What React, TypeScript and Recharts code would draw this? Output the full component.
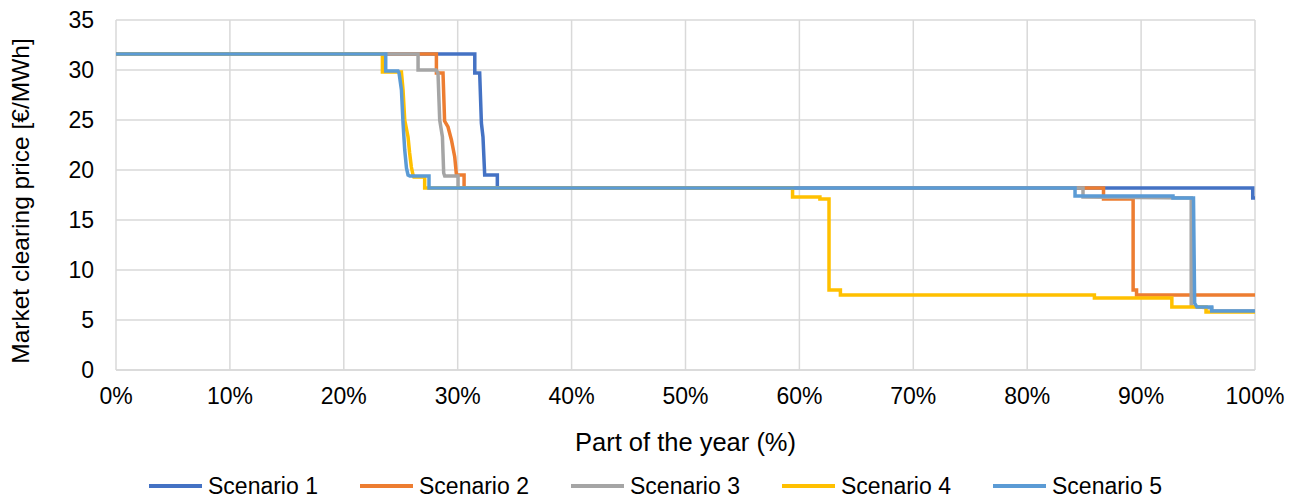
import { LineChart, Line, XAxis, YAxis, CartesianGrid, Legend } from "recharts";

// [part of year %, price €/MWh]
const scenario1 = [
  [0, 31.6], [31.5, 31.6], [31.5, 29.7], [31.93, 29.7], [32.08, 24.7], [32.22, 23.3],
  [32.37, 19.5], [33.48, 19.5], [33.48, 18.2], [99.8, 18.2], [99.8, 17.2], [100, 17.2],
];
const scenario2 = [
  [0, 31.6], [28.13, 31.6], [28.13, 29.7], [28.71, 29.7], [28.85, 24.9], [29.15, 24.3],
  [29.45, 23.0], [29.74, 21.3], [29.89, 19.5], [30.56, 19.5], [30.56, 18.2], [86.7, 18.2],
  [86.7, 17.1], [89.3, 17.1], [89.3, 8.0], [89.6, 8.0], [89.6, 7.5], [100, 7.5],
];
const scenario3 = [
  [0, 31.6], [26.52, 31.6], [26.52, 30.0], [28.1, 30.0], [28.27, 29.7], [28.42, 25.0],
  [28.66, 23.3], [28.77, 19.7], [28.86, 19.4], [30.03, 19.4], [30.03, 18.2], [84.9, 18.2],
  [84.9, 17.3], [94.4, 17.2], [94.4, 6.4], [95.0, 6.3], [96.2, 6.2], [96.2, 5.9], [100, 5.9],
];
const scenario4 = [
  [0, 31.6], [23.39, 31.6], [23.39, 29.8], [25.06, 29.8], [25.2, 28.0], [25.35, 25.0],
  [25.64, 23.3], [25.78, 21.7], [25.93, 20.3], [26.08, 19.5], [26.15, 19.3], [27.1, 19.3],
  [27.1, 18.2], [59.4, 18.2], [59.4, 17.3], [61.8, 17.3], [61.8, 17.1], [62.6, 17.1],
  [62.6, 8.0], [63.6, 8.0], [63.6, 7.5], [85.9, 7.5], [85.9, 7.2], [92.7, 7.2],
  [92.7, 6.3], [95.7, 6.3], [95.7, 5.8], [100, 5.8],
];
const scenario5 = [
  [0, 31.6], [23.68, 31.6], [23.68, 29.9], [24.76, 29.9], [24.85, 29.7], [25.06, 28.0],
  [25.2, 24.7], [25.35, 22.0], [25.5, 20.2], [25.64, 19.5], [25.8, 19.4], [27.48, 19.4],
  [27.48, 18.2], [84.2, 18.2], [84.2, 17.4], [92.8, 17.4], [92.8, 17.2], [94.6, 17.2],
  [94.7, 6.7], [94.9, 6.3], [96.2, 6.3], [96.2, 5.9], [100, 5.9],
];

const seriesNames = ["Scenario 1", "Scenario 2", "Scenario 3", "Scenario 4", "Scenario 5"];
const seriesColors = ["#4472C4", "#ED7D31", "#A5A5A5", "#FFC000", "#5B9BD5"];
const seriesData = [scenario1, scenario2, scenario3, scenario4, scenario5];

const xTicks = [0, 10, 20, 30, 40, 50, 60, 70, 80, 90, 100];
const yTicks = [0, 5, 10, 15, 20, 25, 30, 35];

const FONT = "'Liberation Sans', Arial, sans-serif";
const GRID = "#D9D9D9";

function LegendRow({ payload }: any) {
  return (
    <div style={{ display: "flex", paddingLeft: 149, paddingTop: 24, fontFamily: FONT }}>
      {(payload || []).map((p: any) => (
        <div key={p.value} style={{ display: "flex", alignItems: "center", width: 211, height: 24 }}>
          <span style={{ display: "inline-block", width: 53, height: 4, background: p.color, marginRight: 6 }} />
          <span style={{ fontSize: 23, color: "#000", lineHeight: "24px" }}>{p.value}</span>
        </div>
      ))}
    </div>
  );
}

export default function App() {
  return (
    <div style={{ position: "absolute", left: 0, top: 0, width: 1301, height: 497, background: "#fff" }}>
      <LineChart width={1301} height={497} margin={{ top: 20, right: 46, left: 0, bottom: 0 }}>
        <CartesianGrid stroke={GRID} strokeWidth={1.5} />
        <XAxis
          type="number"
          dataKey="x"
          domain={[0, 100]}
          ticks={xTicks}
          tickFormatter={(v: number) => `${v}%`}
          height={80}
          tickLine={false}
          tickSize={6}
          tickMargin={12}
          axisLine={{ stroke: GRID, strokeWidth: 1.5 }}
          tick={{ fontSize: 23, fill: "#000", fontFamily: FONT }}
          label={{
            content: (props: any) => {
              const vb = props.viewBox || { x: 116, width: 1139 };
              return (
                <text x={vb.x + vb.width / 2} y={451} textAnchor="middle" fontSize={25.5} fontFamily={FONT} fill="#000">
                  Part of the year (%)
                </text>
              );
            },
          }}
        />
        <YAxis
          type="number"
          domain={[0, 35]}
          ticks={yTicks}
          width={116}
          tickLine={false}
          tickSize={6}
          tickMargin={16}
          axisLine={false}
          tick={{ fontSize: 23, fill: "#000", fontFamily: FONT }}
          label={{
            content: (props: any) => {
              const vb = props.viewBox || { y: 20, height: 350 };
              const cy = vb.y + vb.height / 2 + 6;
              return (
                <text
                  x={29}
                  y={cy}
                  transform={`rotate(-90, 29, ${cy})`}
                  textAnchor="middle"
                  fontSize={24.5}
                  fontFamily={FONT}
                  fill="#000"
                >
                  Market clearing price [€/MWh]
                </text>
              );
            },
          }}
        />
        <Legend
          verticalAlign="bottom"
          content={(props: any) => <LegendRow {...props} />}
          wrapperStyle={{ left: 0, bottom: 0, width: 1301, height: 47 }}
        />
        {seriesData.map((s, i) => (
          <Line
            key={seriesNames[i]}
            name={seriesNames[i]}
            data={s.map(([x, y]) => ({ x, y }))}
            dataKey="y"
            type="linear"
            stroke={seriesColors[i]}
            strokeWidth={3.5}
            dot={false}
            activeDot={false}
            isAnimationActive={false}
          />
        ))}
      </LineChart>
    </div>
  );
}
